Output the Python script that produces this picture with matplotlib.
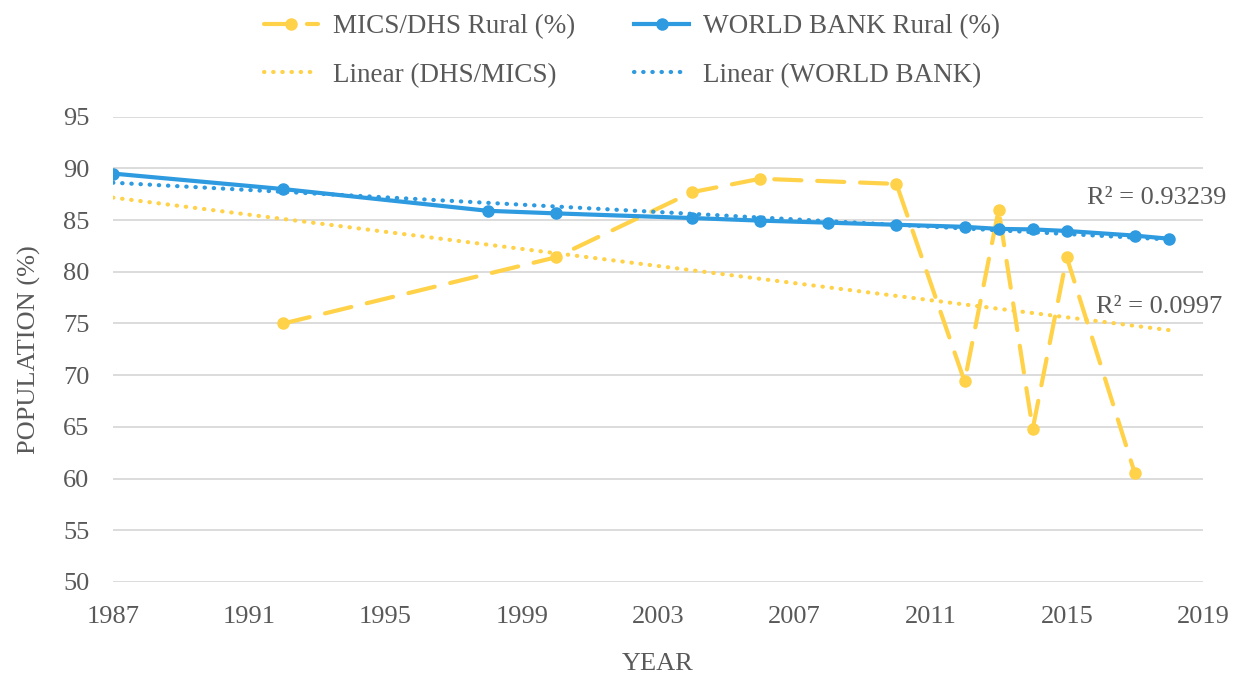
import numpy as np
import matplotlib
matplotlib.use("Agg")
import matplotlib.pyplot as plt

# ---- data ----
mics_years = [1992, 2000, 2004, 2006, 2010, 2012, 2013, 2014, 2015, 2017]
mics_rural = [75.0, 81.4, 87.7, 89.0, 88.5, 69.4, 86.0, 64.8, 81.4, 60.5]

wb_years = [1987, 1992, 1998, 2000, 2004, 2006, 2008, 2010, 2012, 2013, 2014, 2015, 2017, 2018]
wb_rural = [89.5, 88.0, 85.9, 85.65, 85.2, 84.95, 84.75, 84.55, 84.35, 84.15, 84.1, 83.95, 83.5, 83.2]

x_ticks = [1987, 1991, 1995, 1999, 2003, 2007, 2011, 2015, 2019]
y_ticks = [50, 55, 60, 65, 70, 75, 80, 85, 90, 95]
r2_mics_text = "R² = 0.0997"
r2_wb_text = "R² = 0.93239"

# ---- style ----
YELLOW = "#FFD24A"
BLUE = "#2E9AE0"
GRAY = "#595959"
plt.rcParams["font.family"] = ["Liberation Serif", "DejaVu Serif"]
FS = 19

fig = plt.figure(figsize=(12.33, 6.77), dpi=100)
ax = fig.add_axes([113/1233, 1-582/677, (1203-113)/1233, (582-116.7)/677])

ax.plot(mics_years, mics_rural, color=YELLOW, lw=3, linestyle=(0, (6.5, 3.8)),
        dash_capstyle="round", marker="o", ms=8, label="MICS/DHS Rural (%)", zorder=3)
ax.plot(wb_years, wb_rural, color=BLUE, lw=3, marker="o", ms=8,
        label="WORLD BANK Rural (%)", zorder=4)

# linear trendlines
trend_x = np.array([min(wb_years), max(wb_years)])
pm = np.polyfit(mics_years, mics_rural, 1)
pw = np.polyfit(wb_years, wb_rural, 1)
tx = np.linspace(trend_x[0], trend_x[1], 200)
dot = (0, (0.1, 2.1))
ax.plot(tx, np.polyval(pm, tx), color=YELLOW, lw=3, linestyle=dot,
        dash_capstyle="round", label="Linear (DHS/MICS)", zorder=5)
ax.plot(tx, np.polyval(pw, tx), color=BLUE, lw=3, linestyle=dot,
        dash_capstyle="round", label="Linear (WORLD BANK)", zorder=5)

ax.set_xlim(1987, 2019)
ax.set_ylim(50, 95)
ax.set_xticks(x_ticks)
ax.set_yticks(y_ticks)
ax.grid(axis="y", color="#D9D9D9", lw=1.3)
ax.set_axisbelow(True)
for s in ax.spines.values():
    s.set_visible(False)
ax.tick_params(axis="both", length=0, labelsize=FS, labelcolor=GRAY)
ax.tick_params(axis="x", pad=17)
ax.tick_params(axis="y", pad=17)

ax.set_xlabel("YEAR", fontsize=FS, color=GRAY, labelpad=18)
ax.set_ylabel("POPULATION (%)", fontsize=FS, color=GRAY, labelpad=16)

ax.text(2019.7, 87.14, r2_wb_text, ha="right", va="center", fontsize=FS,
        color=GRAY, clip_on=False)
ax.text(2019.56, 76.6, r2_mics_text, ha="right", va="center", fontsize=FS,
        color=GRAY, clip_on=False)

h, l = ax.get_legend_handles_labels()
order = [0, 2, 1, 3]
fig.legend([h[i] for i in order], [l[i] for i in order], ncol=2, frameon=False,
           loc="center", bbox_to_anchor=(632/1233, 1-51/677), fontsize=19.5,
           labelcolor=GRAY, handlelength=2.0, handletextpad=0.55,
           columnspacing=2.2, labelspacing=0.86)

fig.savefig("out.png", dpi=100)
